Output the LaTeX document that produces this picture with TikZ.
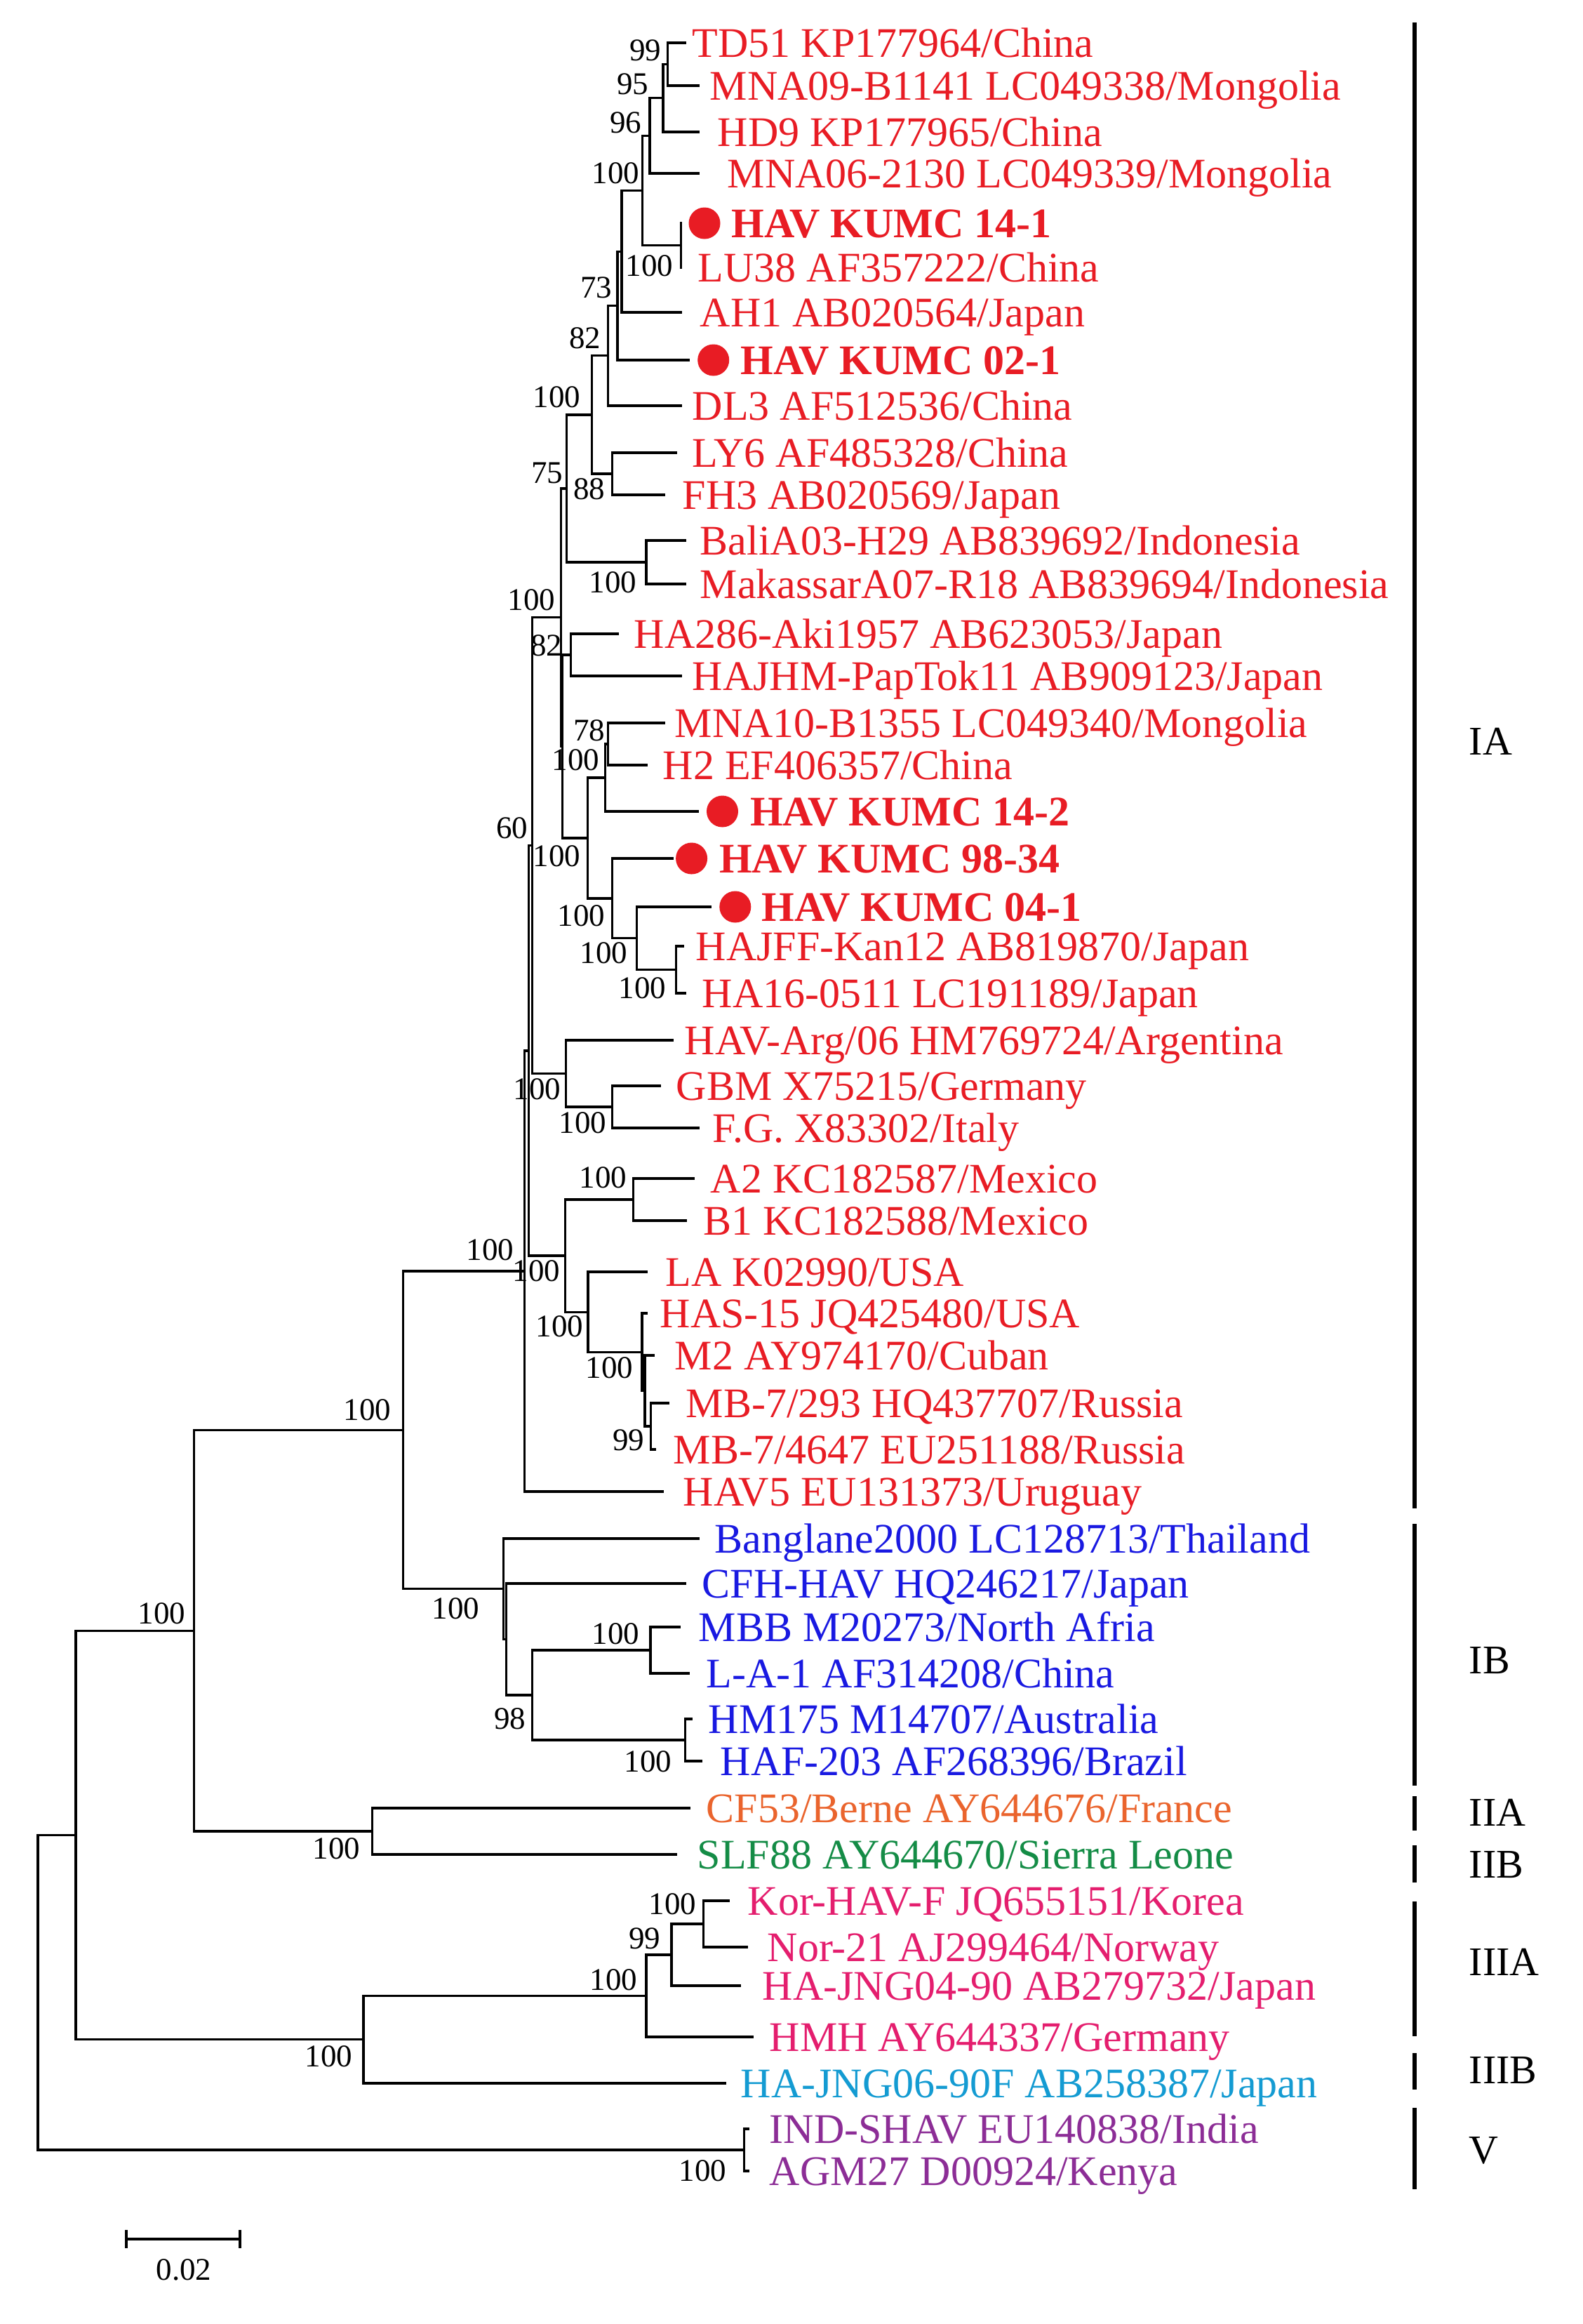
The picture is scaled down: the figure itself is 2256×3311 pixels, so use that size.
\documentclass[tikz,border=0pt]{standalone}
\usepackage{fontspec}
\setmainfont{Liberation Serif}
\definecolor{cIA}{RGB}{232,28,36}
\definecolor{cIB}{RGB}{25,25,225}
\definecolor{cIIA}{RGB}{234,100,45}
\definecolor{cIIB}{RGB}{20,140,70}
\definecolor{cIIIA}{RGB}{228,30,110}
\definecolor{cIIIB}{RGB}{20,155,210}
\definecolor{cV}{RGB}{140,45,150}
\tikzset{
 branch/.style={line width=0.8pt, line join=miter, line cap=rect},
 leaftext/.style={anchor=base west, inner sep=0pt, font=\fontsize{15}{18}\selectfont},
 kumc/.style={anchor=base west, inner sep=0pt, font=\fontsize{15}{18}\selectfont\bfseries, text=cIA},
 boot/.style={anchor=east, inner sep=0pt, font=\fontsize{11.25}{13}\selectfont},
 cladebar/.style={line width=1.5pt},
 cladelab/.style={anchor=west, inner sep=0pt, font=\fontsize{14.5}{17}\selectfont},
 dotmark/.style={circle, fill=cIA, inner sep=0pt, minimum size=11.25pt},
}
\newcommand{\lf}[6]{\coordinate (#1) at (#2,#3); \node[leaftext,text=#5] (#1t) at (#4,#3+20) {#6};}
\newcommand{\kumc}[6]{\coordinate (#1) at (#2,#3); \node[dotmark] (#1d) at (#4,#3) {}; \node[kumc] (#1t) at (#5,#3+20) {#6};}
\newcommand{\cl}[3]{\draw[branch] (#2) -| (#1) |- (#3);}
\newcommand{\bs}[4]{\node[boot] (#1) at (#2,#3) {#4};}
\begin{document}
\begin{tikzpicture}[x=0.25pt,y=-0.25pt]
\useasboundingbox (0,0) rectangle (2256,3311);
% ---------- leaves ----------
\lf{L1}{976.7}{61}{986}{cIA}{TD51 KP177964/China}
\lf{L2}{995}{122}{1011}{cIA}{MNA09-B1141 LC049338/Mongolia}
\lf{L3}{995}{188}{1022}{cIA}{HD9 KP177965/China}
\lf{L4}{995}{247}{1036}{cIA}{MNA06-2130 LC049339/Mongolia}
\kumc{L5}{970.7}{318}{1004}{1042}{HAV KUMC 14-1}
\lf{L6}{970.7}{381}{994}{cIA}{LU38 AF357222/China}
\lf{L7}{970}{445}{997}{cIA}{AH1 AB020564/Japan}
\kumc{L8}{981.7}{513}{1016.7}{1055}{HAV KUMC 02-1}
\lf{L9}{970}{578}{986}{cIA}{DL3 AF512536/China}
\lf{L10}{963}{645}{986}{cIA}{LY6 AF485328/China}
\lf{L11}{946.7}{705}{972}{cIA}{FH3 AB020569/Japan}
\lf{L12}{976.7}{770}{997}{cIA}{BaliA03-H29 AB839692/Indonesia}
\lf{L13}{976.7}{832}{997}{cIA}{MakassarA07-R18 AB839694/Indonesia}
\lf{L14}{880}{903}{903}{cIA}{HA286-Aki1957 AB623053/Japan}
\lf{L15}{970}{963}{986}{cIA}{HAJHM-PapTok11 AB909123/Japan}
\lf{L16}{946.7}{1030}{961}{cIA}{MNA10-B1355 LC049340/Mongolia}
\lf{L17}{921.7}{1090}{944}{cIA}{H2 EF406357/China}
\kumc{L18}{994}{1156}{1029.5}{1068.5}{HAV KUMC 14-2}
\kumc{L19}{958}{1223}{985.6}{1024.5}{HAV KUMC 98-34}
\kumc{L20}{1012}{1292}{1047.8}{1085}{HAV KUMC 04-1}
\lf{L21}{973.3}{1348}{991}{cIA}{HAJFF-Kan12 AB819870/Japan}
\lf{L22}{976.7}{1415}{1000}{cIA}{HA16-0511 LC191189/Japan}
\lf{L23}{958.3}{1482}{975}{cIA}{HAV-Arg/06 HM769724/Argentina}
\lf{L24}{940}{1547}{963}{cIA}{GBM X75215/Germany}
\lf{L25}{995}{1607}{1015}{cIA}{F.G. X83302/Italy}
\lf{L26}{988}{1679}{1012}{cIA}{A2 KC182587/Mexico}
\lf{L27}{977}{1739}{1002}{cIA}{B1 KC182588/Mexico}
\lf{L28}{921.7}{1812}{948}{cIA}{LA K02990/USA}
\lf{L29}{921}{1871}{940}{cIA}{HAS-15 JQ425480/USA}
\lf{L30}{931.7}{1931}{961}{cIA}{M2 AY974170/Cuban}
\lf{L31}{952.4}{1999}{977}{cIA}{MB-7/293 HQ437707/Russia}
\lf{L32}{933}{2065}{959}{cIA}{MB-7/4647 EU251188/Russia}
\lf{L33}{944}{2125}{973}{cIA}{HAV5 EU131373/Uruguay}
\lf{L34}{995}{2192}{1018}{cIB}{Banglane2000 LC128713/Thailand}
\lf{L35}{976.8}{2256}{1000}{cIB}{CFH-HAV HQ246217/Japan}
\lf{L36}{968.5}{2318}{995}{cIB}{MBB M20273/North Afria}
\lf{L37}{981}{2384}{1006}{cIB}{L-A-1 AF314208/China}
\lf{L38}{985}{2449}{1009}{cIB}{HM175 M14707/Australia}
\lf{L39}{999}{2509}{1026}{cIB}{HAF-203 AF268396/Brazil}
\lf{L40}{982.6}{2576}{1006}{cIIA}{CF53/Berne AY644676/France}
\lf{L41}{963.5}{2642}{993}{cIIB}{SLF88 AY644670/Sierra Leone}
\lf{L42}{1038.8}{2708}{1065}{cIIIA}{Kor-HAV-F JQ655151/Korea}
\lf{L43}{1064.7}{2774}{1093}{cIIIA}{Nor-21 AJ299464/Norway}
\lf{L44}{1054.7}{2829}{1086}{cIIIA}{HA-JNG04-90 AB279732/Japan}
\lf{L45}{1072}{2902}{1096}{cIIIA}{HMH AY644337/Germany}
\lf{L46}{1033}{2968}{1055}{cIIIB}{HA-JNG06-90F AB258387/Japan}
\lf{L47}{1066}{3033}{1096}{cV}{IND-SHAV EU140838/India}
\lf{L48}{1066}{3093}{1096}{cV}{AGM27 D00924/Kenya}
% ---------- internal nodes ----------
\coordinate (na) at (951.7,91.5);
\coordinate (nb) at (945,139.8);
\coordinate (nc) at (926,193.4);
\coordinate (ne) at (970.7,349.5);
\coordinate (nd) at (915.7,271.4);
\coordinate (nf) at (886,358.2);
\coordinate (ng) at (880,435.6);
\coordinate (nh) at (866.7,506.8);
\coordinate (n88) at (872.7,675);
\coordinate (n843) at (843.3,590.9);
\coordinate (nindo) at (921,801);
\coordinate (n807) at (807.3,696);
\coordinate (n82) at (813.3,933);
\coordinate (n78) at (866.7,1060);
\coordinate (n862) at (862.3,1108);
\coordinate (n963) at (963.3,1381.5);
\coordinate (n907) at (907.7,1336.7);
\coordinate (n872) at (872.7,1279.9);
\coordinate (n837) at (837.3,1194);
\coordinate (n800b) at (801.5,1063.5);
\coordinate (n800a) at (799.5,879.8);
\coordinate (n873) at (872.7,1577);
\coordinate (n807b) at (806.7,1529.5);
\coordinate (n758) at (758.3,1204.7);
\coordinate (nmex) at (902.6,1709);
\coordinate (nrus) at (927.5,2032);
\coordinate (n916b) at (919,1981.5);
\coordinate (n916a) at (915,1926.2);
\coordinate (n839) at (838,1869.1);
\coordinate (n806) at (805.6,1789);
\coordinate (n754) at (753.4,1496.9);
\coordinate (nIA) at (747.6,1811);
\coordinate (nMBB) at (927,2351);
\coordinate (nHM) at (976.8,2479);
\coordinate (n98) at (758.7,2415);
\coordinate (nIBb) at (721.4,2335.5);
\coordinate (nIB) at (717.3,2263.7);
\coordinate (nI) at (574.6,2037.4);
\coordinate (nII) at (530.7,2609);
\coordinate (nB) at (276.6,2323.2);
\coordinate (nKor) at (1002.8,2741);
\coordinate (n99b) at (957,2785);
\coordinate (nIIIA) at (921,2843.5);
\coordinate (nIII) at (518,2905.7);
\coordinate (nA) at (108,2614.5);
\coordinate (nV) at (1060.5,3063);
\coordinate (root) at (54,2839);
% ---------- branches ----------
\cl{na}{L1}{L2}
\cl{nb}{na}{L3}
\cl{nc}{nb}{L4}
\cl{ne}{L5}{L6}
\cl{nd}{nc}{ne}
\cl{nf}{nd}{L7}
\cl{ng}{nf}{L8}
\cl{nh}{ng}{L9}
\cl{n88}{L10}{L11}
\cl{n843}{nh}{n88}
\cl{nindo}{L12}{L13}
\cl{n807}{n843}{nindo}
\cl{n82}{L14}{L15}
\cl{n78}{L16}{L17}
\cl{n862}{n78}{L18}
\cl{n963}{L21}{L22}
\cl{n907}{L20}{n963}
\cl{n872}{L19}{n907}
\cl{n837}{n862}{n872}
\cl{n800b}{n82}{n837}
\cl{n800a}{n807}{n800b}
\cl{n873}{L24}{L25}
\cl{n807b}{L23}{n873}
\cl{n758}{n800a}{n807b}
\cl{nmex}{L26}{L27}
\cl{nrus}{L31}{L32}
\cl{n916b}{L30}{nrus}
\cl{n916a}{L29}{n916b}
\cl{n839}{L28}{n916a}
\cl{n806}{nmex}{n839}
\cl{n754}{n758}{n806}
\cl{nIA}{n754}{L33}
\cl{nMBB}{L36}{L37}
\cl{nHM}{L38}{L39}
\cl{n98}{nMBB}{nHM}
\cl{nIBb}{L35}{n98}
\cl{nIB}{L34}{nIBb}
\cl{nI}{nIA}{nIB}
\cl{nII}{L40}{L41}
\cl{nB}{nI}{nII}
\cl{nKor}{L42}{L43}
\cl{n99b}{nKor}{L44}
\cl{nIIIA}{n99b}{L45}
\cl{nIII}{nIIIA}{L46}
\cl{nA}{nB}{nIII}
\cl{nV}{L47}{L48}
\cl{root}{nA}{nV}
% ---------- bootstrap values ----------
\bs{b1}{943}{72}{99}
\bs{b2}{925}{120}{95}
\bs{b3}{915}{175}{96}
\bs{b4}{912}{247}{100}
\bs{b5}{960}{379}{100}
\bs{b6}{873}{410}{73}
\bs{b7}{857}{482}{82}
\bs{b8}{828}{566}{100}
\bs{b9}{803}{674}{75}
\bs{b10}{863}{697}{88}
\bs{b11}{908}{830}{100}
\bs{b12}{792}{855}{100}
\bs{b13}{802}{920}{82}
\bs{b14}{863}{1041}{78}
\bs{b15}{855}{1083}{100}
\bs{b16}{753}{1180}{60}
\bs{b17}{828}{1220}{100}
\bs{b18}{863}{1305}{100}
\bs{b19}{895}{1358}{100}
\bs{b20}{950}{1408}{100}
\bs{b21}{800}{1552}{100}
\bs{b22}{865}{1600}{100}
\bs{b23}{894}{1678}{100}
\bs{b24}{733}{1781}{100}
\bs{b25}{799}{1811}{100}
\bs{b26}{832}{1890}{100}
\bs{b27}{903}{1949}{100}
\bs{b28}{919}{2052}{99}
\bs{b29}{558}{2009}{100}
\bs{b30}{265}{2299}{100}
\bs{b31}{684}{2292}{100}
\bs{b32}{750}{2449}{98}
\bs{b33}{912}{2328}{100}
\bs{b34}{958}{2510}{100}
\bs{b35}{514}{2634}{100}
\bs{b36}{993}{2713}{100}
\bs{b37}{942}{2762}{99}
\bs{b38}{909}{2821}{100}
\bs{b39}{503}{2930}{100}
\bs{b40}{1036}{3093}{100}
% ---------- clade bars ----------
\coordinate (cIAa) at (2016,32);   \coordinate (cIAb) at (2016,2149);
\coordinate (cIBa) at (2016,2171); \coordinate (cIBb) at (2016,2544);
\coordinate (cIIAa) at (2016,2559); \coordinate (cIIAb) at (2016,2608);
\coordinate (cIIBa) at (2016,2629); \coordinate (cIIBb) at (2016,2682);
\coordinate (cIIIAa) at (2016,2709); \coordinate (cIIIAb) at (2016,2901);
\coordinate (cIIIBa) at (2016,2925); \coordinate (cIIIBb) at (2016,2977);
\coordinate (cVa) at (2016,3003); \coordinate (cVb) at (2016,3119);
\draw[cladebar] (cIAa) -- (cIAb);
\draw[cladebar] (cIBa) -- (cIBb);
\draw[cladebar] (cIIAa) -- (cIIAb);
\draw[cladebar] (cIIBa) -- (cIIBb);
\draw[cladebar] (cIIIAa) -- (cIIIAb);
\draw[cladebar] (cIIIBa) -- (cIIIBb);
\draw[cladebar] (cVa) -- (cVb);
\node[cladelab] (gIA) at (2093,1056) {IA};
\node[cladelab] (gIB) at (2093,2366) {IB};
\node[cladelab] (gIIA) at (2093,2582) {IIA};
\node[cladelab] (gIIB) at (2093,2657) {IIB};
\node[cladelab] (gIIIA) at (2093,2795) {IIIA};
\node[cladelab] (gIIIB) at (2093,2950) {IIIB};
\node[cladelab] (gV) at (2093,3064) {V};
% ---------- scale bar ----------
\coordinate (sbL) at (180,3190);
\coordinate (sbR) at (342,3190);
\draw[branch,line cap=butt] ([yshift=-3.2pt]sbL) -- ([yshift=3.2pt]sbL);
\draw[branch,line cap=butt] ([yshift=-3.2pt]sbR) -- ([yshift=3.2pt]sbR);
\draw[branch,line cap=butt] (sbL) -- (sbR);
\node[boot,anchor=center] (sbt) at (262,3234) {0.02};
\end{tikzpicture}
\end{document}
